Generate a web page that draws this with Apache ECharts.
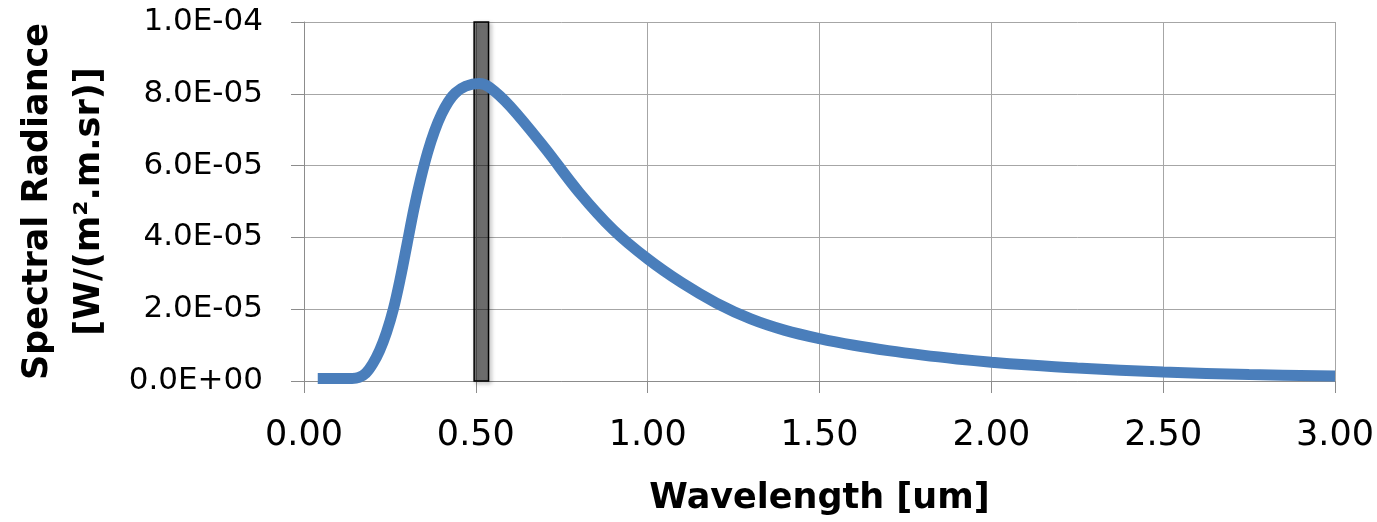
<!DOCTYPE html>
<html>
<head>
<meta charset="utf-8">
<script src="https://cdn.jsdelivr.net/npm/echarts@6/dist/echarts.min.js"></script>
<style>
  html, body { margin: 0; padding: 0; background: #fff; }
  #main { width: 1377px; height: 522px; }
</style>
</head>
<body>
<div id="main"></div>
<script>
// wavelength [um] and spectral radiance
var wavelength = [0.04, 0.10, 0.14, 0.16, 0.18, 0.20, 0.22, 0.24, 0.26, 0.28, 0.30, 0.32, 0.34, 0.36, 0.38, 0.40, 0.42, 0.44, 0.47, 0.51, 0.54, 0.60, 0.70, 0.80, 0.90, 1.00, 1.10, 1.20, 1.30, 1.40, 1.50, 1.60, 1.70, 1.80, 1.90, 2.00, 2.10, 2.25, 2.50, 2.75, 3.00];
var radiance = [0.07e-5, 0.07e-5, 0.07e-5, 0.10e-5, 0.22e-5, 0.48e-5, 0.85e-5, 1.35e-5, 2.00e-5, 2.85e-5, 3.82e-5, 4.80e-5, 5.65e-5, 6.38e-5, 6.97e-5, 7.43e-5, 7.78e-5, 8.02e-5, 8.21e-5, 8.29e-5, 8.18e-5, 7.65e-5, 6.50e-5, 5.26e-5, 4.21e-5, 3.40e-5, 2.73e-5, 2.17e-5, 1.73e-5, 1.41e-5, 1.18e-5, 0.995e-5, 0.845e-5, 0.72e-5, 0.615e-5, 0.525e-5, 0.45e-5, 0.36e-5, 0.25e-5, 0.18e-5, 0.14e-5];

// shaded band [start, end] in um and its vertical extent
var band = [0.495, 0.537];
var bandRange = [0, 1.0e-4];

var xTicks = [0, 3, 0.5];      // min, max, interval
var yTicks = [0, 1.0e-4, 2.0e-5];

var points = wavelength.map(function (w, i) { return [w, radiance[i]]; });

function sci(v) {
  // 8.0E-05 style
  var s = v.toExponential(1).split('e');
  var exp = parseInt(s[1], 10);
  var sign = exp < 0 ? '-' : '+';
  var e = Math.abs(exp);
  return s[0] + 'E' + sign + (e < 10 ? '0' + e : e);
}

var font = 'DejaVu Sans';
var myChart = echarts.init(document.getElementById('main'));
myChart.setOption({
  animation: false,
  textStyle: { fontFamily: font },
  grid: { left: 304, right: 41, top: 22, bottom: 141 },
  xAxis: {
    type: 'value',
    min: xTicks[0], max: xTicks[1], interval: xTicks[2],
    name: 'Wavelength [um]',
    nameLocation: 'middle',
    nameGap: 100,
    nameTextStyle: { color: '#000', fontSize: 35, fontWeight: 'bold', fontFamily: font },
    axisLine: { show: true, lineStyle: { color: '#8c8c8c', width: 1 } },
    axisTick: { show: true, length: 12, lineStyle: { color: '#8c8c8c' } },
    axisLabel: {
      color: '#000', fontSize: 35, margin: 37, fontFamily: font,
      formatter: function (v) { return v.toFixed(2); }
    },
    splitLine: { show: true, lineStyle: { color: '#a6a6a6', width: 1 } }
  },
  yAxis: {
    type: 'value',
    min: yTicks[0], max: yTicks[1], interval: yTicks[2],
    name: 'Spectral Radiance\n[W/(m².m.sr)]',
    nameLocation: 'middle',
    nameRotate: 90,
    nameGap: 188,
    nameTextStyle: { color: '#000', fontSize: 35, fontWeight: 'bold', lineHeight: 52, fontFamily: font },
    axisLine: { show: true, lineStyle: { color: '#8c8c8c', width: 1 } },
    axisTick: { show: true, length: 13, lineStyle: { color: '#8c8c8c' } },
    axisLabel: { color: '#000', fontSize: 31, margin: 41, fontFamily: font, formatter: sci },
    splitLine: { show: true, lineStyle: { color: '#a6a6a6', width: 1 } }
  },
  series: [
    {
      type: 'line',
      data: points,
      smooth: 0.35,
      showSymbol: false,
      clip: true,
      lineStyle: { color: '#4a7ebb', width: 11, cap: 'butt' },
      z: 2
    },
    {
      type: 'line',
      data: [],
      z: 5,
      markArea: {
        silent: true,
        itemStyle: {
          color: 'rgba(0,0,0,0.5)',
          borderColor: '#000',
          borderWidth: 1.5,
          shadowBlur: 4,
          shadowOffsetX: 2,
          shadowOffsetY: 2,
          shadowColor: 'rgba(0,0,0,0.3)'
        },
        data: [[
          { xAxis: band[0], yAxis: bandRange[0] },
          { xAxis: band[1], yAxis: bandRange[1] }
        ]]
      }
    }
  ]
});
window.addEventListener('resize', function () { myChart.resize(); });
</script>
</body>
</html>
